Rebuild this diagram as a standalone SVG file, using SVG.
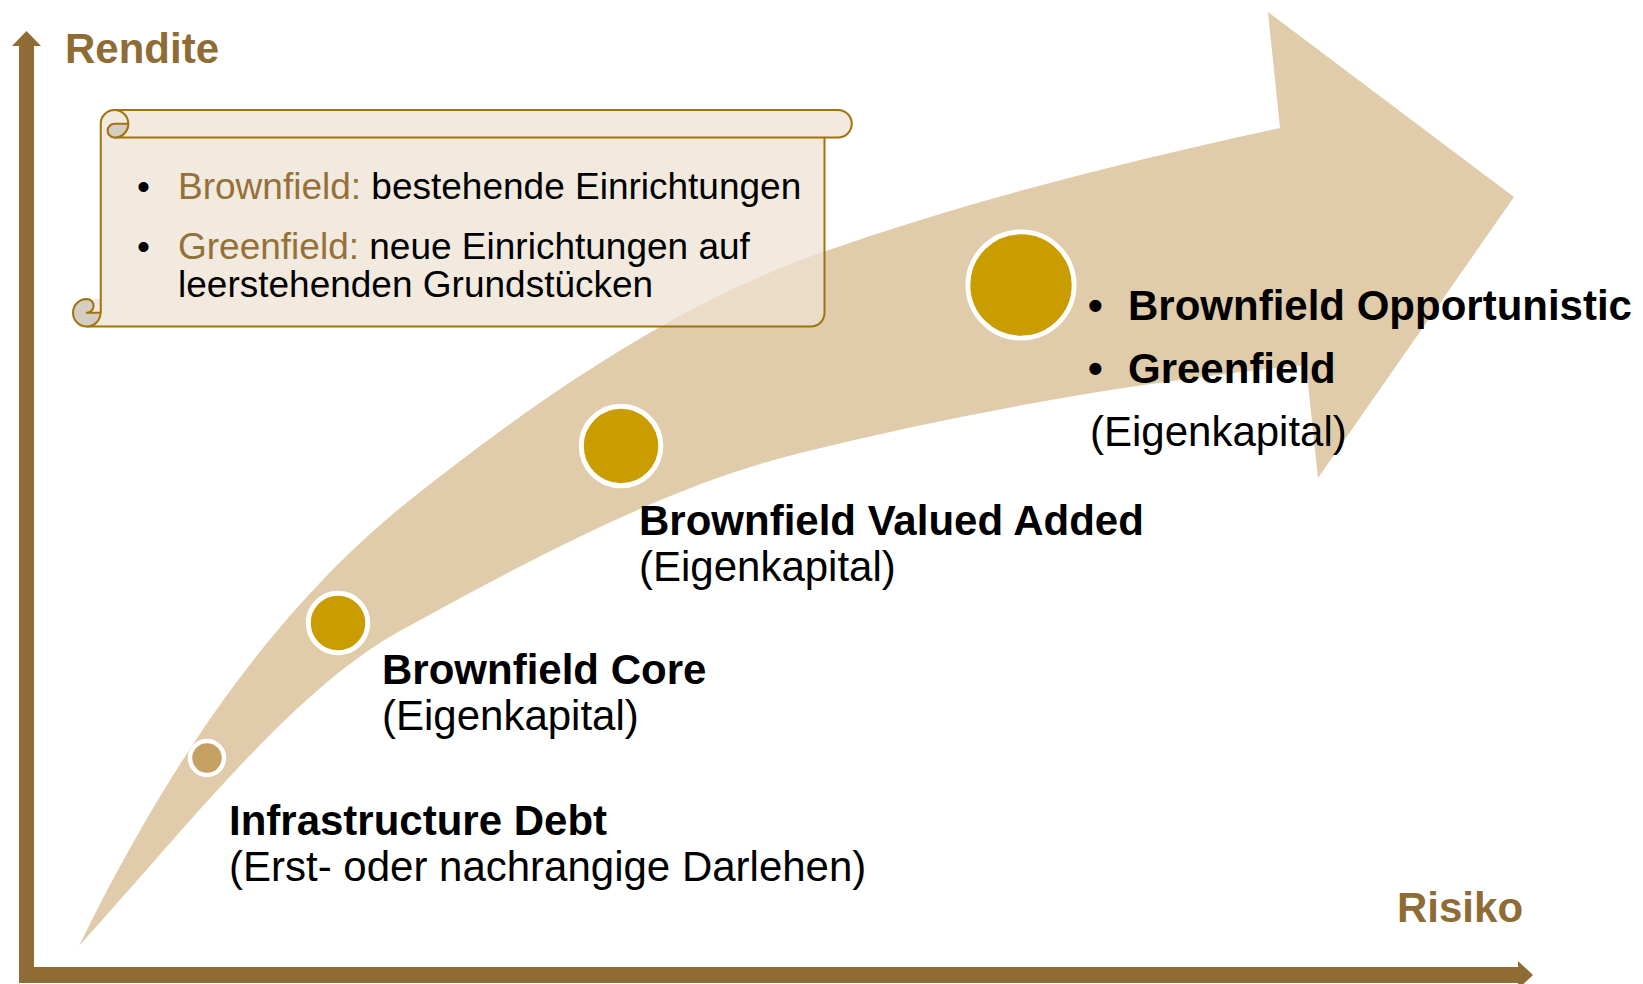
<svg xmlns="http://www.w3.org/2000/svg" width="1643" height="984" viewBox="0 0 1643 984">
  <defs>
    <style>
      .t { font-family: "Liberation Sans", Arial, Helvetica, sans-serif; }
      .ax { fill: #8F6C35; }
      .axlbl { font-size: 42px; font-weight: bold; fill: #8F6C35; }
      .scr { font-size: 37px; fill: #000; }
      .brn { fill: #937139; }
      .bold { font-size: 42px; font-weight: bold; fill: #000; }
      .reg { font-size: 42px; fill: #000; }
      .dot { stroke: #FFFFFF; }
      .gold { fill: #C99C00; }
      .sline { fill: none; stroke: #A2720E; stroke-width: 2; stroke-linejoin: round; }
      .curl { fill: #D4CDC2; stroke: #A2720E; stroke-width: 2; stroke-linejoin: round; }
    </style>
  </defs>

  <!-- big curved arrow -->
  <g id="bigArrow">
    <path fill="#E0CCAA" d="M 79,946 C 189,721 300,588 410,500 C 548,390 685,300 823,252 C 975,199 1128,161 1280,128 L 1268,12 L 1514,197 L 1318,478 L 1306,365 C 1137,382 969,411 800,453 C 667,486 533,558 400,631 C 293,690 186,828 79,946 Z"/>
  </g>

  <!-- axes -->
  <g id="axes">
    <rect class="ax" x="19" y="44" width="15" height="939"/>
    <polygon class="ax" points="12,46 26.5,31 41,46"/>
    <rect class="ax" x="19" y="967" width="1501" height="16"/>
    <polygon class="ax" points="1518,961 1533,975 1518,989"/>
    <text class="t axlbl" x="65" y="63">Rendite</text>
    <text class="t axlbl" x="1397" y="922">Risiko</text>
  </g>

  <!-- scroll legend -->
  <g id="scroll">
    <path fill="#EDE2D1" fill-opacity="0.72" d="M 114.5,110 L 838,110 A 13.75 13.75 0 0 1 838,137.5 L 824.5,137.5 L 824.5,312.75 A 13.75 13.75 0 0 1 810.75,326.5 L 86.75,326.5 A 13.75 13.75 0 0 1 73,312.75 A 13.75 13.75 0 0 1 86.75,299 L 100.75,299 L 100.75,123.75 A 13.75 13.75 0 0 1 114.5,110 Z"/>
    <path class="sline" d="M 100.75,312.75 L 100.75,123.75 A 13.75 13.75 0 0 1 114.5,110 L 838,110 A 13.75 13.75 0 0 1 838,137.5 L 114.5,137.5"/>
    <path class="sline" d="M 114.5,110 A 13.75 13.75 0 0 1 114.5,137.5"/>
    <path class="curl" d="M 114.5,123.75 L 128.25,123.75 A 13.75 13.75 0 0 1 114.5,137.5 A 6.875 6.875 0 0 1 114.5,123.75 Z"/>
    <path class="sline" d="M 824.5,137.5 L 824.5,312.75 A 13.75 13.75 0 0 1 810.75,326.5 L 86.75,326.5"/>
    <path class="curl" d="M 86.75,299 A 13.75 13.75 0 1 0 100.5,312.75 L 86.75,312.75 A 6.875 6.875 0 0 0 86.75,299 Z"/>
    <line class="sline" x1="100.5" y1="312.75" x2="100.75" y2="312.75"/>
    <text class="t scr" x="137" y="199">•</text>
    <text class="t scr" x="178" y="199"><tspan class="brn">Brownfield:</tspan> bestehende Einrichtungen</text>
    <text class="t scr" x="137" y="258.5">•</text>
    <text class="t scr" x="178" y="258.5"><tspan class="brn">Greenfield:</tspan> neue Einrichtungen auf</text>
    <text class="t scr" x="178" y="296.5">leerstehenden Grundstücken</text>
  </g>

  <!-- stage nodes -->
  <g id="node-debt">
    <circle class="dot" cx="207" cy="758" r="17" fill="#C4A062" stroke-width="4.5"/>
    <text class="t bold" x="229" y="835">Infrastructure Debt</text>
    <text class="t reg" x="229" y="881">(Erst- oder nachrangige Darlehen)</text>
  </g>
  <g id="node-core">
    <circle class="dot gold" cx="338" cy="623" r="29.75" stroke-width="5"/>
    <text class="t bold" x="382" y="684">Brownfield Core</text>
    <text class="t reg" x="382" y="730">(Eigenkapital)</text>
  </g>
  <g id="node-value">
    <circle class="dot gold" cx="621" cy="446" r="39.75" stroke-width="5"/>
    <text class="t bold" x="639" y="535">Brownfield Valued Added</text>
    <text class="t reg" x="639" y="581">(Eigenkapital)</text>
  </g>
  <g id="node-opportunistic">
    <circle class="dot gold" cx="1021" cy="285" r="53.1" stroke-width="4.8"/>
    <text class="t bold" x="1088" y="320">•</text>
    <text class="t bold" x="1128" y="320">Brownfield Opportunistic</text>
    <text class="t bold" x="1088" y="383">•</text>
    <text class="t bold" x="1128" y="383">Greenfield</text>
    <text class="t reg" x="1090" y="446">(Eigenkapital)</text>
  </g>
</svg>
